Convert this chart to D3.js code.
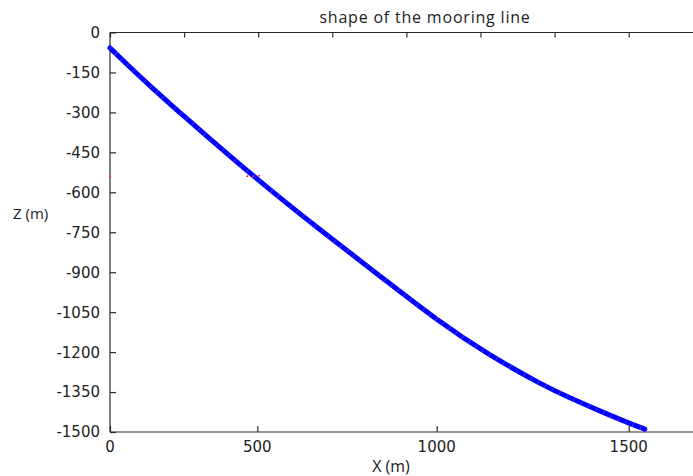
<!DOCTYPE html>
<html>
<head>
<meta charset="utf-8">
<script src="https://cdn.jsdelivr.net/npm/d3@7"></script>
<style>
  html, body { margin: 0; padding: 0; background: #fff; }
  svg { display: block; }
</style>
</head>
<body>
<svg id="chart" width="693" height="476"></svg>
<script>
// Mooring line profile: horizontal distance X (m) and depth Z (m)
const lineX = [0, 78, 136, 238, 316, 493, 675, 842, 1000, 1138, 1276, 1339, 1424, 1503, 1542];
const lineZ = [-58, -141, -201, -302, -377, -546, -742, -914, -1080, -1213, -1324, -1367, -1421, -1468, -1489];

// Second (reference) series, mostly hidden under the blue line
const refX = [0, 466, 486, 505];
const refZ = [-540, -540, -540, -538];

const xTickValues = [0, 500, 1000, 1500];
const xTopTickValues = [0, 250, 500, 750, 1000, 1250, 1500, 1750];
const zTickValues = [0, -150, -300, -450, -600, -750, -900, -1050, -1200, -1350, -1500];

const title = "shape of the mooring line";
const xTitle = "X (m)";
const zTitle = "Z (m)";

const svg = d3.select("#chart");
const plotLeft = 110, plotTop = 32.5, plotBottom = 432;

// Horizontal axis is spaced unevenly between its labelled ticks
const x = d3.scaleLinear()
  .domain([0, 500, 1000, 1500, 2000])
  .range([plotLeft, 257.3, 436.7, 628.7, 820.7]);
// Evenly spaced ticks along the upper frame edge
const xTop = d3.scaleLinear().domain([0, 1750]).range([plotLeft, 628.7]);
const z = d3.scaleLinear().domain([0, -1500]).range([plotTop, plotBottom]);

const tickFont = "'DejaVu Sans', Verdana, sans-serif";
const labelFont = "'Open Sans', 'Noto Sans', sans-serif";
const axisColor = "#2b2b2b";

// Frame lines (left, top, bottom; right side runs off the page)
const frame = svg.append("g").attr("stroke", axisColor).attr("stroke-width", 1.2).attr("fill", "none");
frame.append("line").attr("x1", plotLeft).attr("x2", plotLeft).attr("y1", plotTop).attr("y2", plotBottom);
frame.append("line").attr("x1", plotLeft).attr("x2", 693).attr("y1", plotTop).attr("y2", plotTop);
frame.append("line").attr("x1", plotLeft).attr("x2", 693).attr("y1", plotBottom).attr("y2", plotBottom);

// Left axis: inward ticks, labels on the outside
const zAxis = d3.axisRight(z).tickValues(zTickValues).tickSize(6).tickFormat("");
svg.append("g").attr("transform", `translate(${plotLeft},0)`).call(zAxis)
  .call(g => g.select(".domain").remove())
  .call(g => g.selectAll("line").attr("stroke", axisColor).attr("stroke-width", 1.2));
svg.append("g").selectAll("text").data(zTickValues).join("text")
  .attr("x", 100).attr("y", d => z(d)).attr("dy", "0.36em")
  .attr("text-anchor", "end")
  .attr("font-family", tickFont).attr("font-size", 15).attr("fill", "#222")
  .text(d => d);

// Bottom axis: inward ticks
const xAxis = d3.axisTop(x).tickValues(xTickValues).tickSize(6).tickFormat("");
svg.append("g").attr("transform", `translate(0,${plotBottom})`).call(xAxis)
  .call(g => g.select(".domain").remove())
  .call(g => g.selectAll("line").attr("stroke", axisColor).attr("stroke-width", 1.2));
svg.append("g").selectAll("text").data(xTickValues).join("text")
  .attr("x", d => x(d)).attr("y", 452)
  .attr("text-anchor", "middle")
  .attr("font-family", tickFont).attr("font-size", 15).attr("fill", "#222")
  .text(d => d);

// Top edge ticks
const xTopAxis = d3.axisBottom(xTop).tickValues(xTopTickValues).tickSize(5).tickFormat("");
svg.append("g").attr("transform", `translate(0,${plotTop})`).call(xTopAxis)
  .call(g => g.select(".domain").remove())
  .call(g => g.selectAll("line").attr("stroke", axisColor).attr("stroke-width", 1.2));

// Titles
svg.append("text").attr("x", 425).attr("y", 23).attr("text-anchor", "middle")
  .attr("font-family", labelFont).attr("font-size", 16).attr("letter-spacing", 0.8)
  .attr("fill", "#222").text(title);
svg.append("text").attr("x", 391).attr("y", 472).attr("text-anchor", "middle")
  .attr("font-family", labelFont).attr("font-size", 16).attr("fill", "#222").text(xTitle);
svg.append("text").attr("x", 13).attr("y", 219).attr("text-anchor", "start")
  .attr("font-family", labelFont).attr("font-size", 15).attr("fill", "#222").text(zTitle);

// Mooring line
const pts = lineX.map((d, i) => [d, lineZ[i]]);
const line = d3.line().x(d => x(d[0])).y(d => z(d[1])).curve(d3.curveBasis);
svg.append("path").datum(pts)
  .attr("d", line)
  .attr("fill", "none").attr("stroke", "#0000ff")
  .attr("stroke-width", 5).attr("stroke-linecap", "round");
svg.append("path").datum(pts)
  .attr("d", line)
  .attr("fill", "none").attr("stroke", "#5a5aff")
  .attr("stroke-width", 5).attr("stroke-dasharray", "1 7").attr("opacity", 0.6);

// Reference points
svg.append("g").selectAll("circle").data(refX.map((d, i) => [d, refZ[i]])).join("circle")
  .attr("cx", d => x(d[0])).attr("cy", d => z(d[1])).attr("r", 1)
  .attr("fill", "#ff2020");
</script>
</body>
</html>
